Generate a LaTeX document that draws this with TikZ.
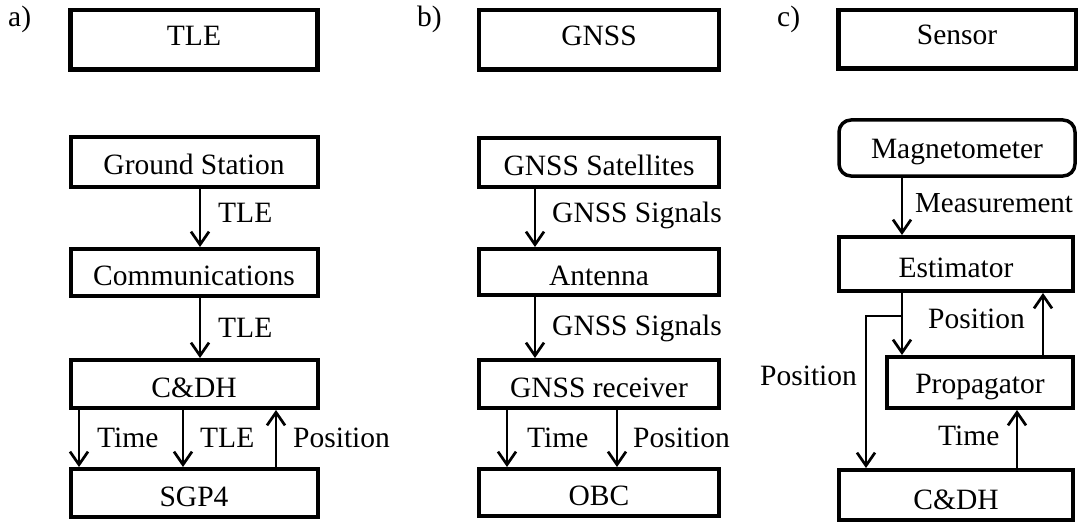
\documentclass[tikz,border=0pt]{standalone}
\usepackage{fontspec}
\setmainfont{Liberation Serif}
\usetikzlibrary{arrows.meta}
\begin{document}
\begin{tikzpicture}[x=1pt,y=-1pt,font=\fontsize{29.5}{36}\selectfont,
  box/.style={draw,line width=4pt,inner sep=0pt,text height=26pt,text depth=0pt},
  topbox/.style={box,line width=4.5pt,text height=11pt},
  arr/.style={line width=2.7pt,-{Straight Barb[length=13pt,width=18pt]}},
  lab/.style={anchor=base west,inner sep=0pt}]
\useasboundingbox (0,0) rectangle (1079,524);

% panel labels
\node[lab] (pa) at (8,27) {a)};
\node[lab] (pb) at (417,27) {b)};
\node[lab] (pc) at (777,27) {c)};

% panel a
\node[topbox,minimum width=247,minimum height=59.5] (tlea) at (194,40) {TLE};
\node[box,minimum width=247,minimum height=50] (gs) at (194,162) {Ground Station};
\node[box,minimum width=247,minimum height=47] (comm) at (194,272.5) {Communications};
\node[box,minimum width=247,minimum height=48] (cdha) at (194,384) {C\&DH};
\node[box,minimum width=247,minimum height=48] (sgp) at (194,493) {SGP4};
\draw[arr] ([xshift=6]gs.south) -- ([xshift=6]comm.north);
\draw[arr] ([xshift=6]comm.south) -- ([xshift=6]cdha.north);
\draw[arr] ([xshift=-115]cdha.south) -- ([xshift=-115]sgp.north);
\draw[arr] ([xshift=-11]cdha.south) -- ([xshift=-11]sgp.north);
\draw[arr] ([xshift=82]sgp.north) -- ([xshift=82]cdha.south);
\node[lab] (la1) at (218,222) {TLE};
\node[lab] (la2) at (218,337) {TLE};
\node[lab] (la3) at (97,447) {Time};
\node[lab] (la4) at (200,447) {TLE};
\node[lab] (la5) at (293,447) {Position};

% panel b
\node[topbox,minimum width=240,minimum height=59.5] (gnss) at (599,40) {GNSS};
\node[box,minimum width=240,minimum height=49] (sat) at (599,162.5) {GNSS Satellites};
\node[box,minimum width=240,minimum height=46] (ant) at (599,272) {Antenna};
\node[box,minimum width=240,minimum height=48] (rec) at (599,384) {GNSS receiver};
\node[box,minimum width=240,minimum height=47] (obc) at (599,492.5) {OBC};
\draw[arr] ([xshift=-64]sat.south) -- ([xshift=-64]ant.north);
\draw[arr] ([xshift=-64]ant.south) -- ([xshift=-64]rec.north);
\draw[arr] ([xshift=-92]rec.south) -- ([xshift=-92]obc.north);
\draw[arr] ([xshift=18]rec.south) -- ([xshift=18]obc.north);
\node[lab] (lb1) at (552,222) {GNSS Signals};
\node[lab] (lb2) at (552,335) {GNSS Signals};
\node[lab] (lb3) at (527,447) {Time};
\node[lab] (lb4) at (633,447) {Position};

% panel c
\node[topbox,minimum width=237.5,minimum height=58.5] (sens) at (957,39.5) {Sensor};
\node[box,line width=3.5pt,rounded corners=12pt,text height=21pt,minimum width=236,minimum height=56] (mag) at (957,148) {Magnetometer};
\node[box,minimum width=234,minimum height=54] (est) at (956,264) {Estimator};
\node[box,text height=21pt,minimum width=186,minimum height=51] (prop) at (980,382.5) {Propagator};
\node[box,text height=29pt,minimum width=234,minimum height=50] (cdhc) at (956,495) {C\&DH};
\draw[arr] ([xshift=-55]mag.south) -- ([xshift=-54]est.north);
\draw[arr] ([xshift=-54]est.south) -- ([xshift=-78]prop.north);
\coordinate (br) at (902,316);
\draw[arr] (br) -| ([xshift=-90]cdhc.north);
\draw[arr] ([xshift=63]prop.north) -- ([xshift=87]est.south);
\draw[arr] ([xshift=61]cdhc.north) -- ([xshift=37]prop.south);
\node[lab,font=\fontsize{29}{36}\selectfont] (lc1) at (915,212) {Measurement};
\node[lab] (lc2) at (928,328) {Position};
\node[lab] (lc3) at (760,385) {Position};
\node[lab] (lc4) at (938,445) {Time};
\end{tikzpicture}
\end{document}
